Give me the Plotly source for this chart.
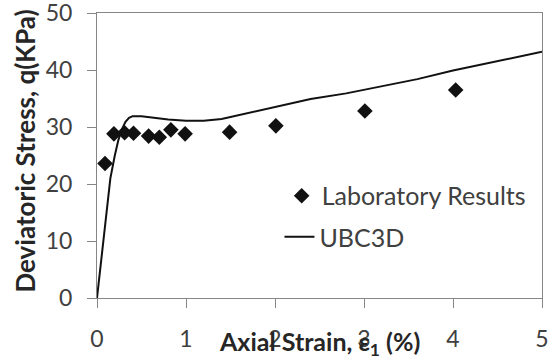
import plotly.graph_objects as go

# Laboratory results (diamonds)
lab_x = [0.09, 0.19, 0.31, 0.41, 0.58, 0.70, 0.83, 0.99, 1.49, 2.01, 3.01, 4.03]
lab_y = [23.6, 28.8, 29.0, 28.9, 28.4, 28.2, 29.5, 28.8, 29.1, 30.2, 32.8, 36.5]

# UBC3D model curve
ubc_x = [0, 0.05, 0.10, 0.15, 0.20, 0.24, 0.28, 0.32, 0.36, 0.40, 0.50, 0.60, 0.80,
         1.00, 1.20, 1.40, 1.60, 1.80, 2.00, 2.40, 2.80, 3.20, 3.60, 4.00, 4.50, 5.00]
ubc_y = [0, 7.3, 14.5, 21.0, 25.0, 27.7, 29.6, 30.9, 31.6, 31.9, 31.9, 31.7, 31.3,
         31.1, 31.1, 31.4, 32.1, 32.9, 33.6, 34.9, 35.9, 37.1, 38.4, 39.9, 41.6, 43.2]

x_ticks = [0, 1, 2, 3, 4, 5]
y_ticks = [0, 10, 20, 30, 40, 50]

x_title = "<b>Axial Strain, ε<sub>1</sub> (%)</b>"
y_title = "<b>Deviatoric Stress, q(KPa)</b>"

FONT = "Lato"
AXIS_COLOR = "#868686"
TEXT_COLOR = "#404040"
TITLE_COLOR = "#262626"

fig = go.Figure()
fig.add_trace(go.Scatter(
    x=lab_x, y=lab_y, mode="markers", name="Laboratory Results",
    marker=dict(symbol="diamond", size=12, color="#111111"),
    legend="legend", showlegend=True,
))
fig.add_trace(go.Scatter(
    x=ubc_x, y=ubc_y, mode="lines", name="UBC3D",
    line=dict(color="#111111", width=2),
    legend="legend2", showlegend=True,
))

fig.update_layout(
    width=549, height=360,
    margin=dict(l=97, r=7, t=13, b=62, autoexpand=False),
    paper_bgcolor="white", plot_bgcolor="white",
    font=dict(family=FONT, color=TEXT_COLOR, size=23),
    showlegend=True,
    legend=dict(x=0.415, y=0.358, xanchor="left", yanchor="middle",
                bgcolor="rgba(0,0,0,0)", font=dict(size=25, color=TEXT_COLOR)),
    legend2=dict(x=0.41, y=0.214, xanchor="left", yanchor="middle",
                 bgcolor="rgba(0,0,0,0)", font=dict(size=25, color=TEXT_COLOR)),
    xaxis=dict(
        range=[0, 5], tickvals=x_ticks, ticktext=[str(v) for v in x_ticks],
        showgrid=False, zeroline=False, automargin=False,
        showline=True, linecolor=AXIS_COLOR, linewidth=1, mirror=True,
        ticks="outside", ticklen=9, tickcolor=AXIS_COLOR,
        ticklabelstandoff=11, ticklabeloverflow="allow",
        tickfont=dict(size=23, color=TEXT_COLOR),
    ),
    yaxis=dict(
        range=[0, 50], tickvals=y_ticks, ticktext=[str(v) for v in y_ticks],
        showgrid=False, zeroline=False, automargin=False,
        showline=True, linecolor=AXIS_COLOR, linewidth=1, mirror=True,
        ticks="outside", ticklen=9, tickcolor=AXIS_COLOR,
        ticklabelstandoff=10, ticklabeloverflow="allow",
        tickfont=dict(size=23, color=TEXT_COLOR),
    ),
    annotations=[
        dict(text=x_title, xref="paper", yref="paper", x=0.499,
             y=-0.158, xanchor="center", yanchor="middle", showarrow=False,
             font=dict(size=25, color=TITLE_COLOR)),
        dict(text=y_title, xref="paper", yref="paper", x=-0.164, y=0.514,
             xanchor="center", yanchor="middle", textangle=-90, showarrow=False,
             font=dict(size=26, color=TITLE_COLOR)),
    ],
)

fig.write_html("out.html")
